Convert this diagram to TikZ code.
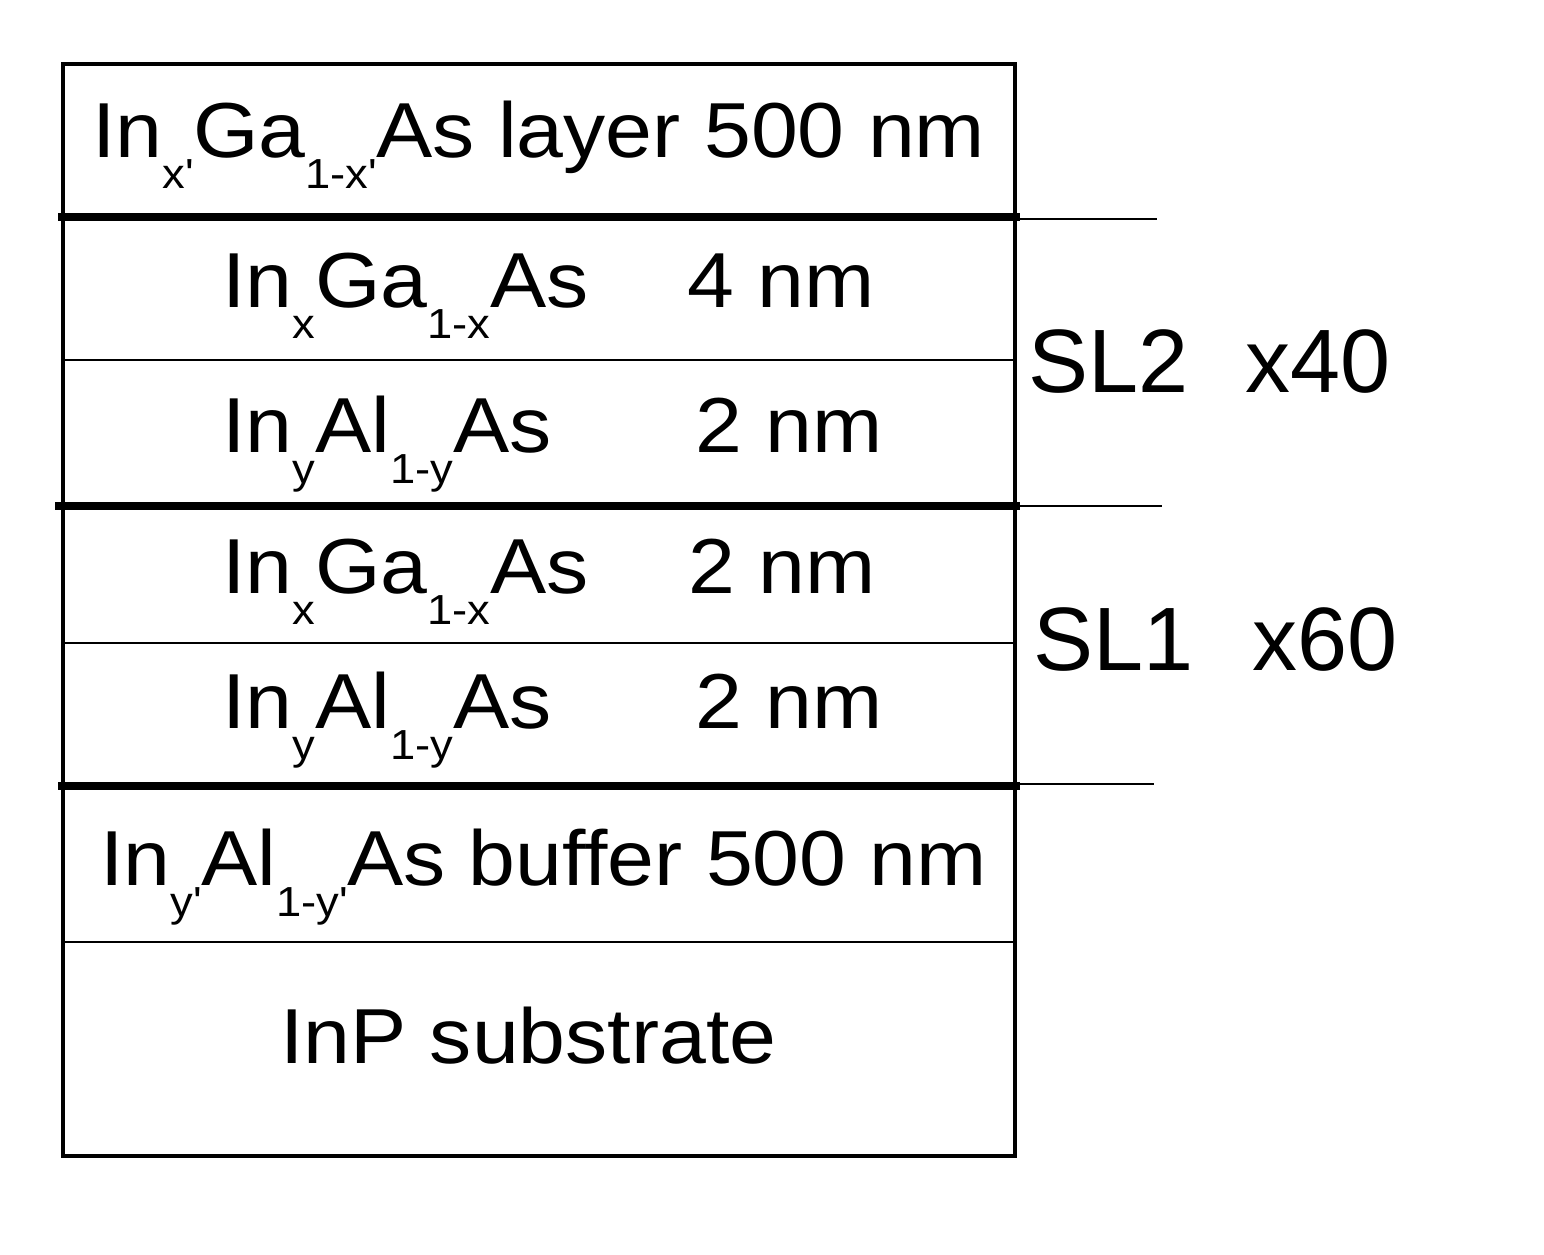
\documentclass[tikz,border=0pt]{standalone}
\usepackage{fontspec}
\setmainfont[FakeStretch=1.08]{Liberation Sans}
\newfontfamily\slfont{Liberation Sans}
\newcommand\lsub[1]{\raisebox{-31pt}{\fontsize{42}{42}\selectfont #1}}
\newcommand\pr{\textquotesingle}
\begin{document}
\begin{tikzpicture}[x=1pt,y=-1pt,
  lbl/.style={anchor=base west, inner sep=0pt, font=\fontsize{78}{78}\selectfont},
  sllbl/.style={anchor=base west, inner sep=0pt, font=\slfont\fontsize{90}{90}\selectfont},
  boxline/.style={line width=4.5pt},
  thickline/.style={line width=8.5pt},
  thinline/.style={line width=2.5pt},
  extline/.style={line width=2pt}]
\useasboundingbox (0,0) rectangle (1544,1255);
% separators
\draw[thickline] (58,217) -- (1020,217);
\draw[thickline] (55,506) -- (1020,506);
\draw[thickline] (58,786) -- (1020,786);
\draw[thinline] (63,360) -- (1015,360);
\draw[thinline] (63,643) -- (1015,643);
\draw[thinline] (63,942) -- (1015,942);
\draw[boxline] (63,64) rectangle (1015,1156);
% extension lines
\draw[extline] (1015,219) -- (1157,219);
\draw[extline] (1015,506) -- (1162,506);
\draw[extline] (1015,784) -- (1154,784);
% texts
\node[lbl] (t1) at (92,157) {In\lsub{x\pr}Ga\lsub{1-x\pr}As layer 500 nm};
\node[lbl] (t2) at (222,307) {In\lsub{x}Ga\lsub{1-x}As};
\node[lbl] (n2) at (687,307) {4 nm};
\node[lbl] (t3) at (222,452) {In\lsub{y}Al\lsub{1-y}As};
\node[lbl] (n3) at (695,452) {2 nm};
\node[lbl] (t4) at (222,593) {In\lsub{x}Ga\lsub{1-x}As};
\node[lbl] (n4) at (688,593) {2 nm};
\node[lbl] (t5) at (222,728) {In\lsub{y}Al\lsub{1-y}As};
\node[lbl] (n5) at (695,728) {2 nm};
\node[lbl] (t6) at (100,885) {In\lsub{y\pr}Al\lsub{1-y\pr}As buffer 500 nm};
\node[lbl] (t7) at (280,1063) {InP substrate};
\node[sllbl] (sl2) at (1028,392) {SL2};
\node[sllbl] (x40) at (1245,392) {x40};
\node[sllbl] (sl1) at (1033,670) {SL1};
\node[sllbl] (x60) at (1252,670) {x60};
\end{tikzpicture}
\end{document}
